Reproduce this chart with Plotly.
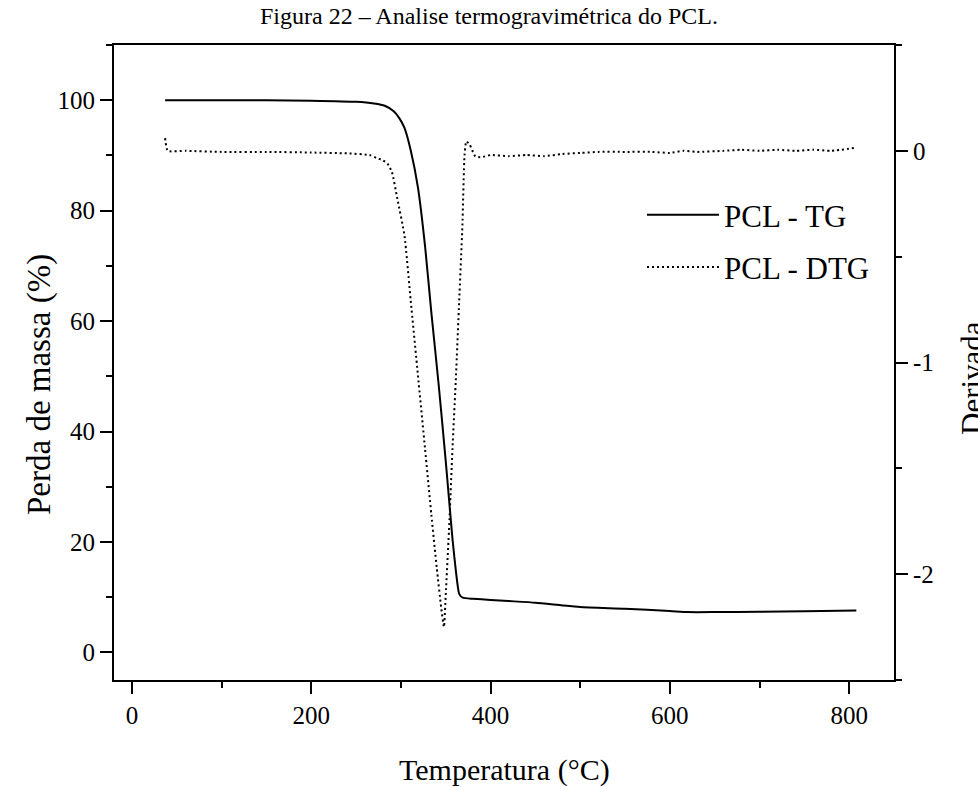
import plotly.graph_objects as go

# ---- data ----
tg_temp = [37, 100, 150, 200, 250, 270, 282, 292, 298, 304, 311, 319, 327, 334,
           342, 350, 357.5, 361.5, 365, 369, 380, 400, 420, 450, 480, 500, 550,
           600, 620, 650, 700, 750, 808]
tg_mass = [100, 100, 100, 99.9, 99.7, 99.4, 99.0, 98.0, 96.8, 95.0, 90.9, 84.2,
           73.5, 61.5, 48.7, 34.7, 20.6, 14.5, 10.6, 9.9, 9.7, 9.5, 9.3, 9.0,
           8.5, 8.2, 7.9, 7.5, 7.3, 7.3, 7.35, 7.45, 7.6]

dtg_temp = [37, 40, 60, 100, 150, 200, 240, 265, 273, 280, 285, 290, 296, 304,
            311, 319, 327, 334, 340, 345, 348, 350, 354, 357.5, 361.5, 365,
            368.5, 371, 373, 377, 383, 390, 400, 420, 440, 460, 480, 500, 520,
            550, 580, 600, 615, 630, 660, 680, 700, 720, 740, 760, 780, 808]
dtg_deriv = [0.06, 0.0, 0.0, -0.005, -0.005, -0.008, -0.012, -0.02, -0.034,
             -0.045, -0.06, -0.10, -0.226, -0.40, -0.71, -1.06, -1.41, -1.72,
             -1.97, -2.16, -2.25, -2.10, -1.76, -1.41, -1.06, -0.71, -0.365,
             -0.02, 0.045, 0.027, -0.026, -0.03, -0.02, -0.025, -0.02, -0.025,
             -0.015, -0.01, -0.005, -0.005, -0.005, -0.01, 0.0, -0.005, 0.0,
             0.005, 0.0, 0.005, 0.0, 0.005, 0.0, 0.015]

x_ticks = [0, 200, 400, 600, 800]
y_ticks = [0, 20, 40, 60, 80, 100]
y2_ticks = [-2, -1, 0]
y2_ticktext = ["-2", "-1", "0"]

title_text = "Figura 22 – Analise termogravimétrica do PCL."
x_title = "Temperatura (°C)"
y_title = "Perda de massa (%)"
y2_title = "Derivada"

FONT = "Liberation Serif"

fig = go.Figure()
fig.add_trace(go.Scatter(
    x=tg_temp, y=tg_mass, mode="lines", name="PCL - TG",
    line=dict(color="black", width=2, shape="spline", smoothing=0.5),
    legendgroup="a", yaxis="y"))
fig.add_trace(go.Scatter(
    x=dtg_temp, y=dtg_deriv, mode="lines", name="PCL - DTG",
    line=dict(color="black", width=2, dash="2px,3px", shape="spline", smoothing=0.5),
    legendgroup="b", yaxis="y2"))

L, R, T, B = 114, 84, 45, 107
W, H = 978, 787
pw = W - L - R
ph = H - T - B

axis_common = dict(showgrid=False, zeroline=False, showline=True,
                   linecolor="black", linewidth=2, ticks="outside",
                   tickcolor="black", tickwidth=2, ticklen=12,
                   tickfont=dict(family=FONT, size=25, color="black"))

fig.update_layout(
    width=W, height=H,
    margin=dict(l=L, r=R, t=T, b=B),
    paper_bgcolor="white", plot_bgcolor="white",
    font=dict(family=FONT, color="black"),
    showlegend=True,
    legend=dict(x=(642 - L) / pw, y=(680 - 188) / ph, xanchor="left", yanchor="top",
                bgcolor="rgba(0,0,0,0)", font=dict(family=FONT, size=31, color="black"),
                itemwidth=72, tracegroupgap=9, traceorder="grouped"),
    xaxis=dict(range=[-20, 850], tickvals=x_ticks, mirror=True,
               minor=dict(dtick=100, tick0=0, ticklen=6, tickwidth=2, ticks="outside",
                          tickcolor="black"),
               **axis_common),
    yaxis=dict(range=[-5, 110], tickvals=y_ticks,
               minor=dict(dtick=10, tick0=0, ticklen=6, tickwidth=2, ticks="outside",
                          tickcolor="black"),
               **axis_common),
    yaxis2=dict(range=[-2.5, 0.5], tickvals=y2_ticks, ticktext=y2_ticktext,
                overlaying="y", side="right",
                minor=dict(dtick=0.5, tick0=0, ticklen=6, tickwidth=2, ticks="outside",
                           tickcolor="black"),
                **axis_common),
    annotations=[
        dict(text=title_text, xref="paper", yref="paper", x=(489 - L) / pw,
             y=1 + (T - 16) / ph, xanchor="center", yanchor="middle", showarrow=False,
             font=dict(family=FONT, size=24, color="black")),
        dict(text=x_title, xref="paper", yref="paper", x=0.5, y=-(770 - (T + ph)) / ph,
             xanchor="center", yanchor="middle", showarrow=False,
             font=dict(family=FONT, size=30, color="black")),
        dict(text=y_title, xref="paper", yref="paper", x=-(L - 40) / pw,
             y=(T + ph - 385) / ph, xanchor="center", yanchor="middle", textangle=-90,
             showarrow=False, font=dict(family=FONT, size=33, color="black")),
        dict(text=y2_title, xref="paper", yref="paper", x=(972 - L) / pw,
             y=(T + ph - 378) / ph, xanchor="center", yanchor="middle", textangle=-90,
             showarrow=False, font=dict(family=FONT, size=31, color="black")),
    ],
)

fig.write_html("out.html", config={"displayModeBar": False},
               post_script="document.body.style.margin='0';document.body.style.overflow='hidden';")
